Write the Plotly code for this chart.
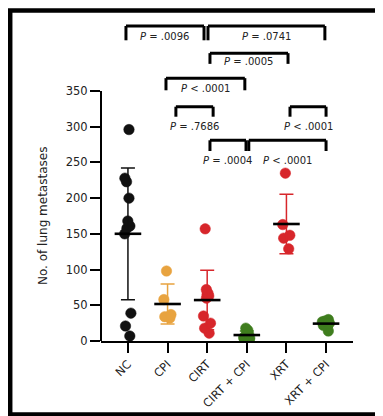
import numpy as np
import plotly.graph_objects as go

# ---------------- data ----------------
groups = ["NC", "CPI", "CIRT", "CIRT + CPI", "XRT", "XRT + CPI"]
nc = [296, 228, 223, 200, 168, 161, 158, 150, 39, 21, 7]
cpi = [98, 58, 37, 34, 32]
cirt = [157, 72, 67, 65, 63, 60, 35, 25, 18, 11]
cirt_cpi = [18, 15, 12, 9, 7, 5, 4, 3, 2]
xrt = [235, 163, 148, 144, 129]
xrt_cpi = [30, 28, 27, 25, 22, 14]
series = [nc, cpi, cirt, cirt_cpi, xrt, xrt_cpi]
colors = ["#111111", "#E8A33F", "#D7262B", "#3F7D1E", "#D7262B", "#3F7D1E"]

y_ticks = [0, 50, 100, 150, 200, 250, 300, 350]
y_title = "No. of lung metastases"

# comparison brackets: (left, right, top, leg bottom, p value, operator, label y)
comparisons = [
    (-0.05, 1.92, 441, 421, ".0096", "=", 427),
    (2.02, 4.97, 441, 421, ".0741", "=", 427),
    (2.07, 4.04, 403, 388, ".0005", "=", 392),
    (0.96, 2.95, 368, 351, ".0001", "<", 354),
    (1.21, 2.15, 328, 314, ".7686", "=", 300),
    (4.09, 5.00, 328, 314, ".0001", "<", 300),
    (2.07, 2.98, 281, 266, ".0004", "=", 253),
    (3.05, 5.00, 281, 266, ".0001", "<", 253),
]

W, H = 383, 416
ML, MR, MT, MB = 93, 38, 10, 83
PW, PH = W - ML - MR, H - MT - MB
YTOP = 452.2
FONT = "DejaVu Sans"


def px2paper(px, py):
    return (px - ML) / PW, (H - MB - py) / PH


fig = go.Figure()

# points (jittered via box traces, boxes hidden)
for i, (vals, col) in enumerate(zip(series, colors)):
    fig.add_trace(go.Box(
        x=[i] * len(vals), y=vals,
        boxpoints="all", jitter=0.45, pointpos=0,
        fillcolor="rgba(0,0,0,0)", line=dict(width=0, color="rgba(0,0,0,0)"),
        marker=dict(size=10.5, color=col, line=dict(width=0.5, color=col)),
        hoverinfo="skip", showlegend=False,
    ))

# mean +/- SD
for i, (vals, col) in enumerate(zip(series, colors)):
    m = float(np.mean(vals))
    sd = float(np.std(vals, ddof=1))
    fig.add_trace(go.Scatter(
        x=[i], y=[m], mode="markers",
        marker=dict(symbol="line-ew", size=19, color="black",
                    line=dict(width=2.6, color="black")),
        error_y=dict(type="data", array=[sd], color=col, thickness=1.5, width=7),
        cliponaxis=False, hoverinfo="skip", showlegend=False,
    ))

shapes = []
annotations = []

# y axis line (only to 350)
shapes.append(dict(type="line", xref="paper", yref="y", x0=0, x1=0, y0=0, y1=y_ticks[-1],
                   line=dict(color="black", width=2)))

for (a, b, top, leg, val, op, ly) in comparisons:
    for (x0, y0, x1, y1) in [(a, leg, a, top), (a, top, b, top), (b, top, b, leg)]:
        shapes.append(dict(type="line", xref="x", yref="y", x0=x0, y0=y0, x1=x1, y1=y1,
                           line=dict(color="black", width=3)))
    annotations.append(dict(x=(a + b) / 2, y=ly, xref="x", yref="y",
                            text=f"<i>P</i> {op} {val}", showarrow=False,
                            font=dict(family=FONT, size=10, color="#222222"),
                            xanchor="center", yanchor="middle"))

# y title
tx, _ = px2paper(35, 0)
annotations.append(dict(x=tx, y=175, xref="paper", yref="y", text=y_title, textangle=-90,
                        showarrow=False, font=dict(family=FONT, size=12, color="#222222"),
                        xanchor="center", yanchor="middle"))

# frame with shadow
sx0, sy0 = px2paper(375.5, 7)
sx1, sy1 = px2paper(375.5, 410)
sx2, sy2 = px2paper(6, 410)
shapes.append(dict(type="path", xref="paper", yref="paper",
                   path=f"M{sx0},{sy0} L{sx1},{sy1} L{sx2},{sy2}",
                   line=dict(color="rgba(0,0,0,0.35)", width=3)))
fx0, fy0 = px2paper(2.2, 2.5)
fx1, fy1 = px2paper(371.5, 406.5)
shapes.append(dict(type="rect", xref="paper", yref="paper", x0=fx0, y0=fy1, x1=fx1, y1=fy0,
                   line=dict(color="black", width=4.5)))

fig.update_layout(
    width=W, height=H,
    margin=dict(l=ML, r=MR, t=MT, b=MB),
    paper_bgcolor="white", plot_bgcolor="white",
    boxmode="overlay",
    showlegend=False,
    shapes=shapes, annotations=annotations,
    font=dict(family=FONT, color="#222222"),
    xaxis=dict(range=[-0.68, 5.68], tickvals=list(range(len(groups))), ticktext=groups,
               tickangle=-45, ticks="outside", ticklen=10, tickwidth=2, tickcolor="black",
               showline=True, linewidth=2, linecolor="black", showgrid=False, zeroline=False,
               tickfont=dict(family=FONT, size=11.5, color="#222222")),
    yaxis=dict(range=[0, YTOP], tickvals=y_ticks, ticks="outside", ticklen=10, tickwidth=2,
               tickcolor="black", showline=False, showgrid=False, zeroline=False,
               tickfont=dict(family=FONT, size=11.5, color="#222222")),
)

fig.write_html("out.html")
